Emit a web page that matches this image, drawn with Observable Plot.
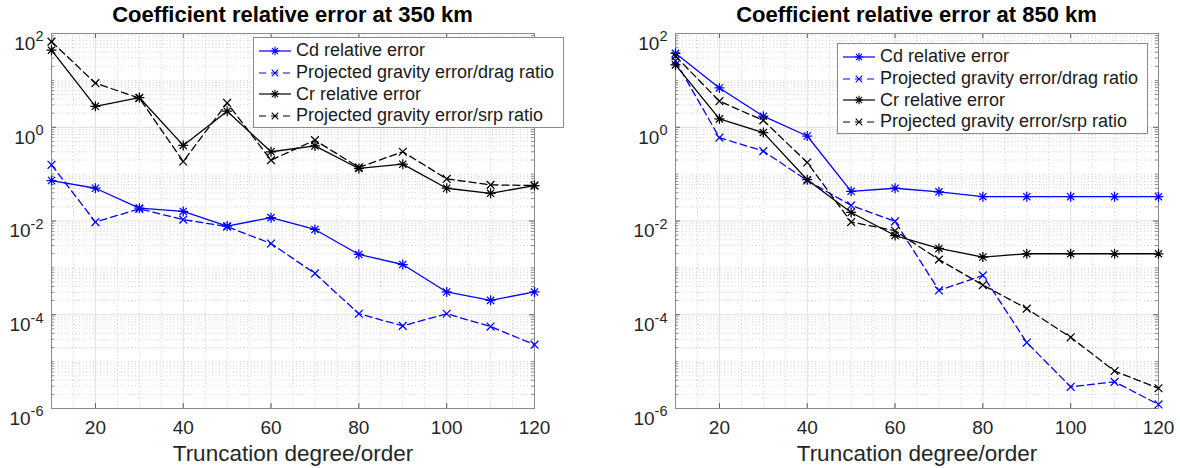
<!DOCTYPE html>
<html><head><meta charset="utf-8">
<script src="https://cdn.jsdelivr.net/npm/d3@7"></script>
<script src="https://cdn.jsdelivr.net/npm/@observablehq/plot@0.6"></script>
<style>
body{margin:0;background:#fff;font-family:"Liberation Sans",Arial,Helvetica,sans-serif;}
#wrap{position:relative;width:1180px;height:468px;overflow:hidden;background:#fff;}
.panel{position:absolute;top:0;width:590px;height:468px;}
.panel svg.plot{position:absolute;left:0;top:25px;overflow:visible;}
.title{position:absolute;top:0;height:25px;font-weight:bold;font-size:22px;color:#000;text-align:center;line-height:30px;white-space:nowrap;}
.legend{position:absolute;background:#fff;border:1px solid #8a8a8a;font-size:18px;color:#1a1a1a;padding-top:2px;box-sizing:border-box;}
.legend .row{display:flex;align-items:center;height:21.7px;white-space:nowrap;}
.legend svg{margin-left:4px;margin-right:4px;flex:none;}
</style>
</head><body>
<div id="wrap"></div>
<script>
// ---- data ----
const degree = [10, 20, 30, 40, 50, 60, 70, 80, 90, 100, 110, 120];
const cd350 = [0.073, 0.050, 0.0188, 0.016, 0.0078, 0.0118, 0.0066, 0.00193, 0.00118, 3.06e-4, 2.03e-4, 3.06e-4];
const dragRatio350 = [0.158, 0.0095, 0.0182, 0.0107, 0.0076, 0.0033, 7.6e-4, 1.05e-4, 5.8e-5, 1.05e-4, 5.6e-5, 2.3e-5];
const cr350 = [44, 2.8, 4.3, 0.41, 2.2, 0.30, 0.40, 0.132, 0.163, 0.050, 0.039, 0.057];
const srpRatio350 = [67, 8.7, 4.2, 0.186, 3.3, 0.199, 0.53, 0.139, 0.30, 0.079, 0.059, 0.057];
const cd850 = [37.7, 6.9, 1.72, 0.65, 0.043, 0.050, 0.042, 0.033, 0.033, 0.033, 0.033, 0.033];
const dragRatio850 = [26, 0.60, 0.31, 0.073, 0.0215, 0.0098, 3.3e-4, 6.9e-4, 2.55e-5, 2.9e-6, 3.7e-6, 1.22e-6];
const cr850 = [21.4, 1.51, 0.77, 0.076, 0.0152, 0.0049, 0.0026, 0.0017, 0.0020, 0.0020, 0.0020, 0.0020];
const srpRatio850 = [33, 3.6, 1.40, 0.177, 0.0095, 0.0062, 0.0015, 4.3e-4, 1.35e-4, 3.3e-5, 6.3e-6, 2.7e-6];
const seriesNames = ["Cd relative error", "Projected gravity error/drag ratio", "Cr relative error", "Projected gravity error/srp ratio"];
const titles = ["Coefficient relative error at 350 km", "Coefficient relative error at 850 km"];
const xLabel = "Truncation degree/order";
const xTicks = [20, 40, 60, 80, 100, 120];
const yTicks = [1e-6, 1e-4, 1e-2, 1, 1e2];

// ---- styles ----
const seriesStyle = [
  {color: "#0000ff", dash: null, marker: "star"},
  {color: "#0000ff", dash: "7,4", marker: "times"},
  {color: "#000000", dash: null, marker: "star"},
  {color: "#000000", dash: "7,4", marker: "times"}
];
const starSymbol = {draw(ctx, size) {
  const r = Math.sqrt(size / Math.PI), d = r * 0.72;
  ctx.moveTo(0, -r); ctx.lineTo(0, r); ctx.moveTo(-r, 0); ctx.lineTo(r, 0);
  ctx.moveTo(-d, -d); ctx.lineTo(d, d); ctx.moveTo(-d, d); ctx.lineTo(d, -d);
}};
const timesSymbol = {draw(ctx, size) {
  const r = Math.sqrt(size / Math.PI), d = r * 0.78;
  ctx.moveTo(-d, -d); ctx.lineTo(d, d); ctx.moveTo(-d, d); ctx.lineTo(d, -d);
}};
const symbols = {star: starSymbol, times: timesSymbol};

const panels = [
  {series: [cd350, dragRatio350, cr350, srpRatio350], left: 0, ml: 51, mr: 56, legend: {left: 253, top: 37, width: 311, height: 91}},
  {series: [cd850, dragRatio850, cr850, srpRatio850], left: 590, ml: 85, mr: 22, legend: {left: 247, top: 43, width: 311, height: 91}}
];

const W = 590, H = 443, MT = 8, MB = 60;
const plotH = H - MT - MB;
const isMajor = v => yTicks.some(t => Math.abs(Math.log10(v) - Math.log10(t)) < 1e-9);
const minorY = d3.scaleLog().domain([1e-6, 1e2]).ticks().filter(v => !isMajor(v));
const minorX = d3.range(15, 120, 5).filter(v => !xTicks.includes(v));
const ns = "http://www.w3.org/2000/svg";
const wrap = document.getElementById("wrap");

panels.forEach((p, pi) => {
  const plotW = W - p.ml - p.mr;
  const div = document.createElement("div");
  div.className = "panel";
  div.style.left = p.left + "px";
  wrap.appendChild(div);

  const t = document.createElement("div");
  t.className = "title";
  t.style.left = p.ml + "px";
  t.style.width = plotW + "px";
  t.textContent = titles[pi];
  div.appendChild(t);

  const marks = [
    Plot.ruleY(minorY, {stroke: "#c4c4c4", strokeDasharray: "1,2.5", strokeWidth: 0.8}),
    Plot.ruleX(minorX, {stroke: "#c4c4c4", strokeDasharray: "1,2.5", strokeWidth: 0.8}),
    Plot.ruleY(yTicks, {stroke: "#e1e1e1", strokeWidth: 1}),
    Plot.ruleX(xTicks, {stroke: "#e1e1e1", strokeWidth: 1}),
    // inner tick marks
    Plot.ruleX(xTicks, {stroke: "#5a5a5a", insetTop: plotH - 5}),
    Plot.ruleX(xTicks, {stroke: "#5a5a5a", insetBottom: plotH - 5}),
    Plot.ruleY(yTicks, {stroke: "#5a5a5a", insetRight: plotW - 5}),
    Plot.ruleY(yTicks, {stroke: "#5a5a5a", insetLeft: plotW - 5}),
    Plot.ruleY(minorY, {stroke: "#8a8a8a", insetRight: plotW - 3}),
    Plot.ruleY(minorY, {stroke: "#8a8a8a", insetLeft: plotW - 3}),
    Plot.frame({stroke: "#8a8a8a", strokeWidth: 1})
  ];
  p.series.forEach((vals, si) => {
    const st = seriesStyle[si];
    const rows = degree.map((d, i) => ({degree: d, value: vals[i]}));
    marks.push(Plot.line(rows, {x: "degree", y: "value", stroke: st.color, strokeWidth: 1.3, strokeDasharray: st.dash}));
    marks.push(Plot.dot(rows, {x: "degree", y: "value", stroke: st.color, strokeWidth: 1.25, r: 5, symbol: symbols[st.marker]}));
  });
  marks.push(Plot.axisX({ticks: xTicks, tickSize: 0, tickPadding: 12, fontSize: 19, label: null}));
  marks.push(Plot.axisY({ticks: yTicks, tickSize: 0, tickPadding: 8, fontSize: 19, label: null,
    tickFormat: d => String(Math.round(Math.log10(d)))}));
  marks.push(Plot.text([xLabel], {text: d => d, frameAnchor: "bottom", dy: 52, fontSize: 22.5, fill: "#262626"}));

  const svg = Plot.plot({
    width: W, height: H,
    marginLeft: p.ml, marginRight: p.mr, marginTop: MT, marginBottom: MB,
    x: {domain: [10, 120]},
    y: {type: "log", domain: [1e-6, 1e2]},
    style: {fontFamily: "'Liberation Sans', Arial, Helvetica, sans-serif", color: "#262626", background: "transparent"},
    marks
  });
  svg.classList.add("plot");
  // superscript exponents on y tick labels
  svg.querySelectorAll('g[aria-label="y-axis tick label"] text').forEach(el => {
    const e = el.textContent.replace("\u2212", "-");
    el.textContent = "";
    const a = document.createElementNS(ns, "tspan"); a.textContent = "10";
    const b = document.createElementNS(ns, "tspan"); b.textContent = e;
    b.setAttribute("dy", "-8.5"); b.setAttribute("font-size", "14.5");
    el.append(a, b);
    el.setAttribute("dy", "0.54em");
  });
  div.appendChild(svg);

  // legend
  const lg = document.createElement("div");
  lg.className = "legend";
  Object.assign(lg.style, {left: p.legend.left + "px", top: p.legend.top + "px", width: p.legend.width + "px", height: p.legend.height + "px"});
  seriesNames.forEach((name, si) => {
    const st = seriesStyle[si];
    const row = document.createElement("div");
    row.className = "row";
    const s = document.createElementNS(ns, "svg");
    s.setAttribute("width", 34); s.setAttribute("height", 20);
    const ln = document.createElementNS(ns, "line");
    Object.entries({x1: 1, x2: 33, y1: 10, y2: 10, stroke: st.color, "stroke-width": 1.2}).forEach(([k, v]) => ln.setAttribute(k, v));
    if (st.dash) ln.setAttribute("stroke-dasharray", "7,5");
    s.appendChild(ln);
    const path = d3.path();
    symbols[st.marker].draw(path, Math.PI * 4.2 * 4.2);
    const mk = document.createElementNS(ns, "path");
    mk.setAttribute("d", path.toString());
    mk.setAttribute("transform", "translate(17,10)");
    mk.setAttribute("stroke", st.color); mk.setAttribute("fill", "none"); mk.setAttribute("stroke-width", 1.1);
    s.appendChild(mk);
    row.appendChild(s);
    const tx = document.createElement("span");
    tx.textContent = name;
    row.appendChild(tx);
    lg.appendChild(row);
  });
  div.appendChild(lg);
});
</script>
</body></html>
